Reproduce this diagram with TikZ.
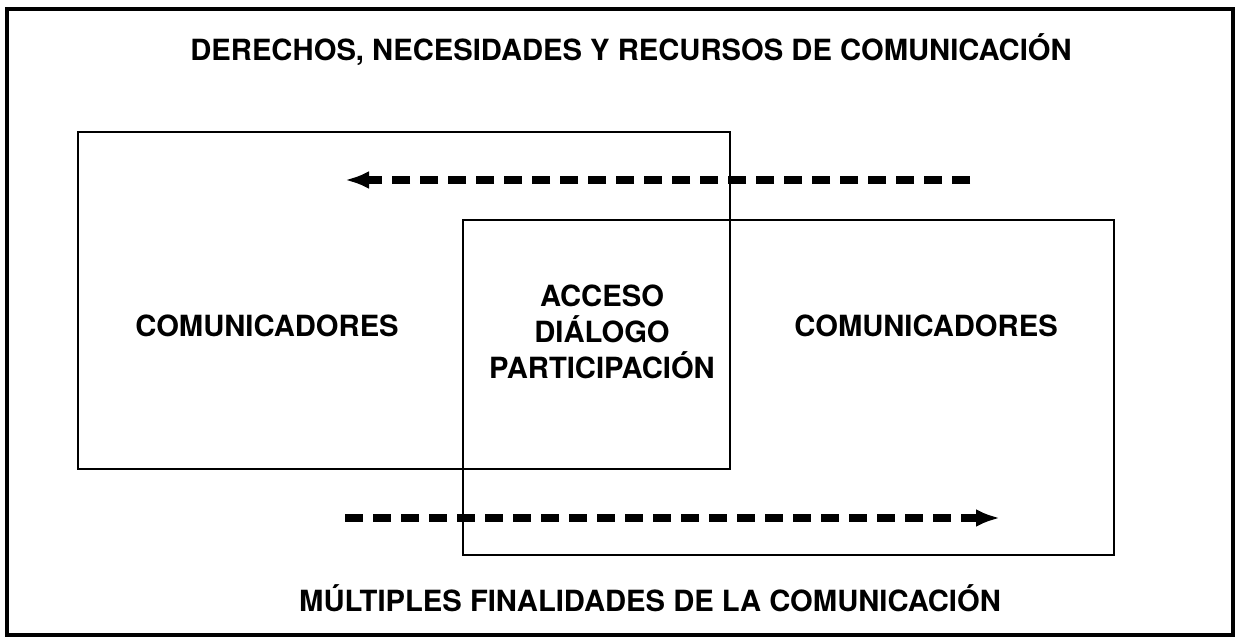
\documentclass[tikz,border=0pt]{standalone}
\usepackage{fontspec}
\setmainfont{TeX Gyre Heros}
\usetikzlibrary{positioning,arrows.meta}
\tikzstyle{frame} = [draw, rectangle, line width=1.2pt, inner sep=0pt]
\tikzstyle{heading} = [font=\fontsize{14.6}{18}\selectfont\bfseries, align=center, inner sep=0pt]
\tikzstyle{flow} = [draw, line width=3.8pt, dash pattern=on 9pt off 5pt, -{Latex[length=12pt,width=9pt]}]

\begin{document}
\begin{tikzpicture}[x=0.5pt, y=-0.5pt]
    \useasboundingbox (0,0) rectangle (1235,640);

    % Place nodes
    \node [frame, line width=1.6pt, minimum width=613pt, minimum height=313pt] (outer) at (620,322) {};
    \node [frame, minimum width=326pt, minimum height=168.5pt] (left-box) at (404,300.5) {};
    \node [frame, minimum width=325.5pt, minimum height=167.5pt] (right-box) at (788.5,387.5) {};
    \node [heading] (rights) at (631,50) {DERECHOS, NECESIDADES Y RECURSOS DE COMUNICACIÓN};
    \node [heading] (senders) at (267,326) {COMUNICADORES};
    \node [heading] (access) at (602,332) {ACCESO\\DIÁLOGO\\PARTICIPACIÓN};
    \node [heading] (receivers) at (926,326) {COMUNICADORES};
    \node [heading] (aims) at (650,598) {MÚLTIPLES FINALIDADES DE LA COMUNICACIÓN};
    \coordinate (top-start) at (970,180);
    \coordinate (top-end) at (345,180);
    \coordinate (bottom-start) at (345,518);
    \coordinate (bottom-end) at (1000,518);

    % Draw edges
    \path [flow] (top-start) -- (top-end);
    \path [flow] (bottom-start) -- (bottom-end);
\end{tikzpicture}
\end{document}
